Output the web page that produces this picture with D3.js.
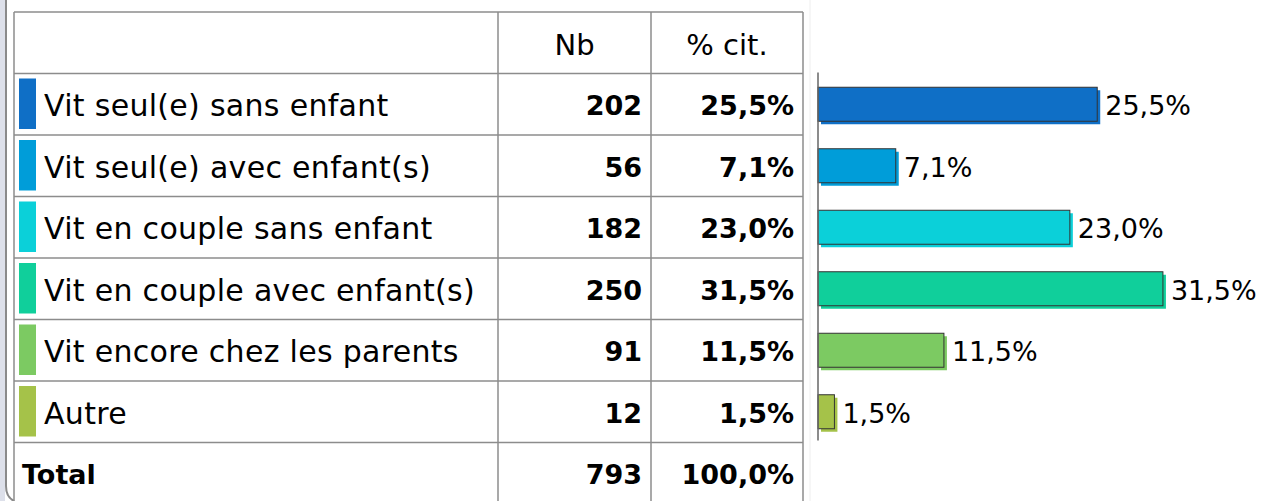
<!DOCTYPE html>
<html>
<head>
<meta charset="utf-8">
<script src="https://cdn.jsdelivr.net/npm/d3@7"></script>
<style>
  html, body { margin: 0; padding: 0; background: #fff; }
  svg text { font-family: "DejaVu Sans", sans-serif; fill: #000; }
</style>
</head>
<body>
<svg id="chart" width="1263" height="501"></svg>
<script>
// données
const categories = [
	'Vit seul(e) sans enfant',
	'Vit seul(e) avec enfant(s)',
	'Vit en couple sans enfant',
	'Vit en couple avec enfant(s)',
	'Vit encore chez les parents',
	'Autre'
];
const counts = [202, 56, 182, 250, 91, 12];
const percents = [25.5, 7.1, 23.0, 31.5, 11.5, 1.5];
const colors = ['#0f6fc6', '#009dd9', '#0bd0d9', '#10cf9b', '#7cca62', '#a5c249'];
const headers = ['Nb', '% cit.'];
const totalLabel = 'Total';
const totalCount = 793;
const totalPercent = 100.0;

const fmtPct = (v) => v.toFixed(1).replace('.', ',') + '%';

const svg = d3.select('#chart');

// cadre gris à gauche
svg.append('rect').attr('x', 0).attr('y', 0).attr('width', 5).attr('height', 501).attr('fill', '#dde0ea');
svg.append('path')
	.attr('d', 'M6,0 L6,486 Q6,497 14,501')
	.attr('fill', 'none').attr('stroke', '#8a8a8a').attr('stroke-width', 2);

// lignes du tableau
const rows = ['__header'].concat(categories, ['__total']);
const y = d3.scaleBand().domain(rows).range([12, 12 + rows.length * 61.5]);
const colX = [14, 498, 651, 803];

const grid = svg.append('g').attr('stroke', '#8c8c8c').attr('stroke-width', 1.5);
rows.forEach((r) => {
	grid.append('line').attr('x1', 14).attr('x2', 803).attr('y1', y(r)).attr('y2', y(r));
});
colX.forEach((cx) => {
	grid.append('line').attr('x1', cx).attr('x2', cx).attr('y1', 12).attr('y2', 501);
});
// ligne très pâle à droite du tableau
svg.append('line').attr('x1', 810).attr('x2', 810).attr('y1', 0).attr('y2', 501)
	.attr('stroke', '#eeeeee').attr('stroke-width', 1);

const bw = y.bandwidth();
const fs = 27;

// en-têtes
headers.forEach((h, i) => {
	svg.append('text')
		.attr('x', (colX[i + 1] + colX[i + 2]) / 2)
		.attr('y', y('__header') + bw / 2 + 12)
		.attr('text-anchor', 'middle')
		.style('font-size', '29px')
		.text(h);
});

// lignes de catégories
categories.forEach((c, i) => {
	const cy = y(c) + bw / 2;
	svg.append('rect')
		.attr('x', 19).attr('y', y(c) + 5)
		.attr('width', 17).attr('height', bw - 11)
		.attr('fill', colors[i]);
	svg.append('text')
		.attr('x', 44).attr('y', cy + 12)
		.style('font-size', '30px')
		.style('letter-spacing', '0.3px')
		.text(c);
	svg.append('text')
		.attr('x', colX[2] - 9).attr('y', cy + 11)
		.attr('text-anchor', 'end')
		.style('font-size', fs + 'px').style('font-weight', 'bold')
		.text(counts[i]);
	svg.append('text')
		.attr('x', colX[3] - 9).attr('y', cy + 11)
		.attr('text-anchor', 'end')
		.style('font-size', fs + 'px').style('font-weight', 'bold')
		.text(fmtPct(percents[i]));
});

// total
const ty = y('__total') + bw / 2 + 11;
svg.append('text').attr('x', 22).attr('y', ty)
	.style('font-size', fs + 'px').style('font-weight', 'bold').text(totalLabel);
svg.append('text').attr('x', colX[2] - 9).attr('y', ty).attr('text-anchor', 'end')
	.style('font-size', fs + 'px').style('font-weight', 'bold').text(totalCount);
svg.append('text').attr('x', colX[3] - 9).attr('y', ty).attr('text-anchor', 'end')
	.style('font-size', fs + 'px').style('font-weight', 'bold').text(fmtPct(totalPercent));

// barres
const x = d3.scaleLinear().domain([0, 40]).range([818, 818 + 438]);
const barH = 34;
const bars = svg.append('g');
categories.forEach((c, i) => {
	const by = y(c) + (bw - barH) / 2;
	const w = x(percents[i]) - x(0);
	// ombre
	bars.append('rect')
		.attr('x', x(0) + 3).attr('y', by + 3)
		.attr('width', w).attr('height', barH)
		.attr('fill', colors[i]);
	bars.append('rect')
		.attr('x', x(0)).attr('y', by)
		.attr('width', w).attr('height', barH)
		.attr('fill', colors[i])
		.attr('stroke', '#333').attr('stroke-width', 1);
	bars.append('text')
		.attr('x', x(percents[i]) + 8)
		.attr('y', y(c) + bw / 2 + 11)
		.style('font-size', fs + 'px')
		.text(fmtPct(percents[i]));
});

// axe vertical
svg.append('line')
	.attr('x1', x(0)).attr('x2', x(0))
	.attr('y1', y(categories[0]) - 1).attr('y2', y('__total') - 2)
	.attr('stroke', '#666').attr('stroke-width', 1.5);
</script>
</body>
</html>
